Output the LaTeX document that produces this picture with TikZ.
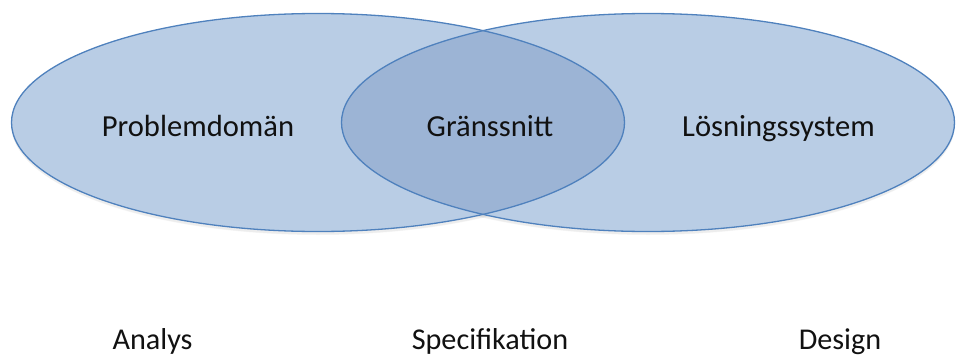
\documentclass[tikz,border=0pt]{standalone}
\usepackage{fontspec}
\setmainfont{Carlito}
\definecolor{vennfill}{HTML}{B9CDE5}
\definecolor{venncore}{HTML}{9CB4D5}
\definecolor{vennline}{HTML}{4F81BD}
\definecolor{labeltext}{HTML}{111111}
\begin{document}
\begin{tikzpicture}[x=1pt,y=-1pt,
  setshape/.style={fill=vennfill},
  setedge/.style={draw=vennline,line width=1.3pt},
  setlabel/.style={anchor=base,inner sep=0pt,text=labeltext,font=\fontsize{30.6}{36}\selectfont},
  phaselabel/.style={anchor=base,inner sep=0pt,text=labeltext,font=\fontsize{30.2}{36}\selectfont}]
\useasboundingbox (0,0) rectangle (957,356);

% soft shadows under the two sets
\foreach \cx in {318,648}{
  \fill[black,opacity=0.035] (\cx,125.5) ellipse [x radius=306.5pt,y radius=109.5pt];
  \fill[black,opacity=0.035] (\cx,124.5) ellipse [x radius=307pt,y radius=110pt];
}

% the two sets
\fill[setshape] (318,122.5) ellipse [x radius=306.5pt,y radius=109pt];
\fill[setshape] (648,122.5) ellipse [x radius=306.5pt,y radius=109pt];

% their common part
\begin{scope}
  \clip (318,122.5) ellipse [x radius=306.5pt,y radius=109pt];
  \fill[venncore] (648,122.5) ellipse [x radius=306.5pt,y radius=109pt];
\end{scope}

% outlines
\draw[setedge] (318,122.5) ellipse [x radius=306.5pt,y radius=109pt];
\draw[setedge] (648,122.5) ellipse [x radius=306.5pt,y radius=109pt];

% labels of the regions
\node[setlabel] (problem) at (198,136.5) {Problemdomän};
\node[setlabel] (interface) at (490,136.5) {Gränssnitt};
\node[setlabel] (solution) at (778.5,136.5) {Lösningssystem};

% phases
\node[phaselabel] (analysis) at (152.5,349) {Analys};
\node[phaselabel] (spec) at (490,349) {Specifikation};
\node[phaselabel] (design) at (840,349) {Design};
\end{tikzpicture}
\end{document}
